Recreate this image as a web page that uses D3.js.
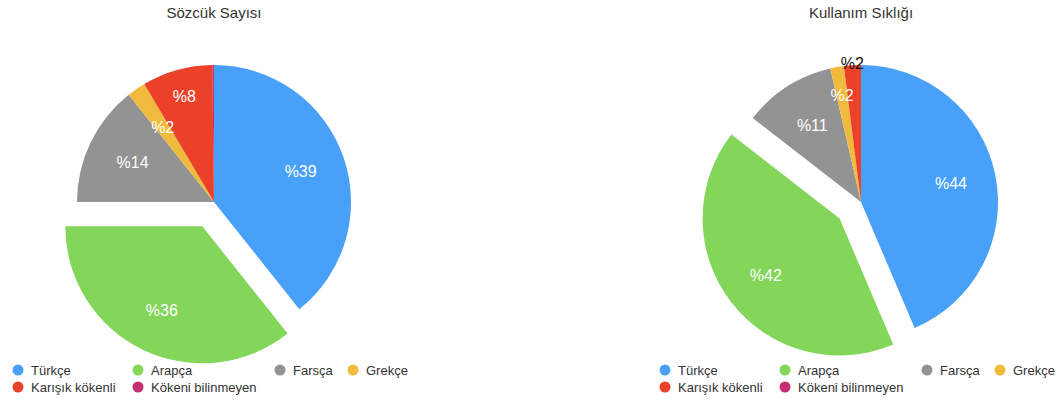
<!DOCTYPE html>
<html>
<head>
<meta charset="utf-8">
<script src="https://cdn.jsdelivr.net/npm/d3@7"></script>
<style>
  body { margin: 0; background: #fff; }
  svg text { font-family: "Liberation Sans", Arial, sans-serif; }
</style>
</head>
<body>
<div id="chartArea"></div>
<script>
// Data
const categories = ['Türkçe', 'Arapça', 'Farsça', 'Grekçe', 'Karışık kökenli', 'Kökeni bilinmeyen'];
const titles = ['Sözcük Sayısı', 'Kullanım Sıklığı'];
const wordCountValues = [39.3, 35.7, 14.3, 2.2, 8.3, 0.2];
const usageValues = [43.6, 41.9, 10.9, 1.6, 2.0, 0];
const explodedCategory = 'Arapça';

const colors = ['#48a0f8', '#83d65a', '#939393', '#f0bb3d', '#ea4128', '#c52f72'];

let width = 1063,
    height = 400,
    radius = 137,
    explodeOffset = 27;

// label radius as a fraction of the radius, per slice (-1 = outside, dark text)
const labelLayout = [
    [0.67, 0.68, 0.66, 0.66, 0.8, 0.67],
    [0.67, 0.68, 0.66, 0.79, -1, 0.67]
];

let svg = d3.select('#chartArea')
    .append('svg')
    .attr('width', width)
    .attr('height', height);

let color = d3.scaleOrdinal().domain(categories).range(colors);

function offsetFor(d) {
    if (d.data.name !== explodedCategory) return [0, 0];
    let a = (d.startAngle + d.endAngle) / 2;
    return [Math.sin(a) * explodeOffset, -Math.cos(a) * explodeOffset];
}

function drawPie(values, idx, cx, cy) {
    let data = categories.map((c, i) => ({ name: c, value: values[i] }));
    let total = d3.sum(values);

    let pie = d3.pie()
        .sort(null)
        .value(d => d.value);

    let arc = d3.arc()
        .innerRadius(0)
        .outerRadius(radius);

    let g = svg.append('g')
        .attr('transform', 'translate(' + cx + ',' + cy + ')');

    // Title
    svg.append('text')
        .attr('x', cx)
        .attr('y', 12)
        .attr('text-anchor', 'middle')
        .attr('dominant-baseline', 'central')
        .style('font-size', '15px')
        .style('fill', '#333')
        .text(titles[idx]);

    let arcs = pie(data);

    g.selectAll('path')
        .data(arcs)
        .enter().append('path')
        .attr('transform', d => 'translate(' + offsetFor(d) + ')')
        .attr('d', arc)
        .attr('fill', d => color(d.data.name));

    // Labels on top of all slices
    g.selectAll('text')
        .data(arcs.filter(d => d.value > 0.5))
        .enter().append('text')
        .attr('transform', d => {
            let a = (d.startAngle + d.endAngle) / 2;
            let f = labelLayout[idx][d.index];
            let r = f < 0 ? radius + 2 : radius * f;
            let o = offsetFor(d);
            return 'translate(' + (Math.sin(a) * r + o[0]) + ',' + (-Math.cos(a) * r + o[1]) + ')';
        })
        .attr('text-anchor', 'middle')
        .attr('dominant-baseline', 'central')
        .style('font-size', '16px')
        .style('fill', d => labelLayout[idx][d.index] < 0 ? '#111' : '#fff')
        .text(d => '%' + Math.round(d.value / total * 100));

    // Legend
    let colX = [0, 120, 262, 335];
    let legend = svg.append('g')
        .attr('transform', 'translate(' + (cx - 196) + ',' + 370 + ')');

    let items = legend.selectAll('g')
        .data(categories)
        .enter().append('g')
        .attr('transform', (d, i) => {
            let row = i < 4 ? 0 : 1;
            let col = i < 4 ? i : i - 4;
            return 'translate(' + colX[col] + ',' + (row * 17) + ')';
        });

    items.append('circle')
        .attr('r', 5.5)
        .attr('fill', d => color(d));

    items.append('text')
        .attr('x', 13)
        .attr('dominant-baseline', 'central')
        .style('font-size', '13px')
        .style('fill', '#333')
        .text(d => d);
}

drawPie(wordCountValues, 0, 214, 202);
drawPie(usageValues, 1, 861, 202);
</script>
</body>
</html>
